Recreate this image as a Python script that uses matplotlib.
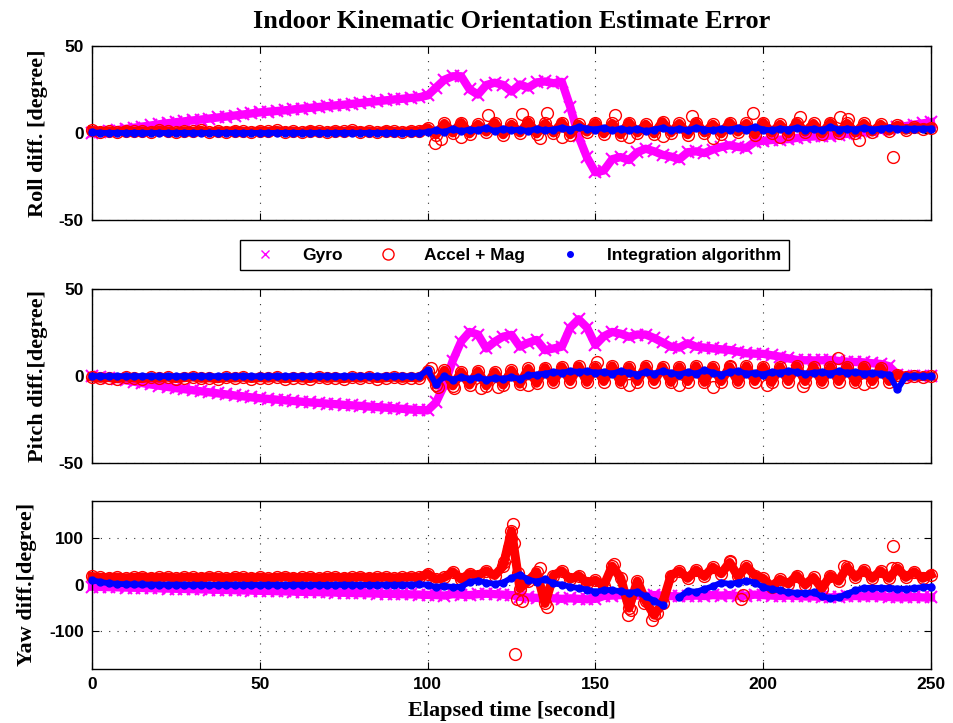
import numpy as np
import matplotlib
matplotlib.use("Agg")
import matplotlib.pyplot as plt
from matplotlib.lines import Line2D

plt.rcParams["axes.unicode_minus"] = False

# ---------------- data ----------------
t = np.arange(0, 250.01, 2.5)  # elapsed time [s]

roll_gyro = [
    0.0, 0.5, 1.1, 1.7, 2.4, 3.0, 3.7, 4.3, 5.0, 5.6,
    6.2, 6.7, 7.2, 7.7, 8.3, 8.9, 9.4, 10.0, 10.6, 11.2,
    11.8, 12.2, 12.6, 13.0, 13.5, 14.0, 14.4, 14.9, 15.4, 15.8,
    16.2, 16.7, 17.2, 17.7, 18.2, 18.7, 19.2, 19.6, 20.1, 20.5,
    21.5, 26.0, 30.5, 32.5, 32.5, 25.0, 22.0, 27.5, 28.8, 27.5,
    23.7, 27.8, 26.0, 29.0, 29.5, 28.5, 29.3, 15.0, -2.0, -14.0,
    -22.5, -21.5, -15.0, -13.8, -15.5, -11.0, -9.0, -10.5, -12.5, -13.5,
    -15.0, -11.0, -10.5, -11.5, -9.5, -8.0, -7.0, -8.0, -8.5, -5.0,
    -4.5, -4.0, -3.8, -3.5, -2.8, -2.2, -2.0, -1.8, -1.5, -1.0,
    -0.5, 0.0, 0.5, 1.2, 1.8, 2.5, 3.2, 4.0, 4.8, 5.5,
    6.2]
roll_accel = [
    1.5, 0.8, 1.2, 0.6, 1.4, 0.9, 1.1, 0.7, 1.5, 1.0,
    0.7, 1.3, 0.9, 1.5, 0.6, 1.2, 0.8, 1.4, 1.0, 0.7,
    1.3, 0.9, 1.5, 0.8, 1.1, 0.6, 1.4, 1.0, 0.7, 1.3,
    0.9, 1.5, 0.8, 1.2, 0.6, 1.4, 1.0, 0.7, 1.3, 1.1,
    3.0, -1.0, 5.5, 0.0, 6.0, -0.5, 5.0, 0.5, 6.0, -1.0,
    5.0, 0.0, 6.5, -0.5, 5.5, 0.0, 6.0, -1.0, 5.0, 0.5,
    6.0, -0.5, 5.5, -1.0, 6.0, 0.0, 5.0, -0.5, 6.5, 0.0,
    5.5, -1.0, 6.0, 0.0, 5.0, -0.5, 6.0, 0.5, 5.5, -1.0,
    6.0, 0.0, 5.0, -0.5, 6.0, 0.5, 5.5, -0.5, 6.0, 0.0,
    5.5, 0.0, 5.5, 0.5, 5.0, 1.0, 4.5, 1.5, 3.5, 2.5,
    3.0]
roll_accel_out_t = [102.2, 104.0, 110.0, 118.1, 128.0, 133.5, 135.5, 140.0, 155.8, 160.0,
                    170.0, 178.7, 185.1, 197.1, 205.0, 211.0, 222.9, 225.4, 228.4, 238.8]
roll_accel_out_v = [-5.5, -3.5, -2.5, 10.3, 10.9, -3.0, 11.7, -2.5, 10.3, -2.5,
                    -2.0, 9.7, -3.0, 11.6, -2.5, 9.0, 9.0, 8.0, -4.0, -13.9]
roll_integ = [
    0.3, 0.1, 0.0, 0.1, 0.0, 0.1, 0.0, 0.0, 0.1, 0.0,
    0.0, 0.1, 0.0, 0.0, 0.1, 0.0, 0.1, 0.0, 0.0, 0.1,
    0.0, 0.0, 0.1, 0.0, 0.1, 0.0, 0.0, 0.1, 0.0, 0.0,
    0.1, 0.0, 0.0, 0.1, 0.0, 0.0, 0.1, 0.0, 0.0, 0.1,
    0.5, 1.5, 0.5, 2.5, 1.0, 2.0, 1.5, 3.0, 1.0, 2.5,
    1.5, 2.0, 1.0, 2.5, 1.5, 2.0, 3.0, 2.0, 3.5, 2.5,
    2.0, 3.0, 1.5, 2.5, 1.5, 2.5, 1.0, 2.0, 3.0, 1.5,
    2.5, 1.5, 3.0, 2.0, 1.5, 2.5, 2.0, 3.0, 2.0, 3.5,
    2.0, 1.5, 2.5, 2.0, 3.0, 2.0, 2.5, 1.5, 3.5, 2.0,
    2.5, 2.0, 3.0, 2.0, 2.5, 3.0, 2.5, 2.5, 2.5, 2.5,
    2.5]

pitch_gyro = [
    0.0, -0.3, -0.8, -1.5, -2.3, -3.1, -3.9, -4.7, -5.4, -6.1,
    -6.8, -7.4, -8.0, -8.6, -9.2, -9.8, -10.4, -11.0, -11.5, -12.1,
    -12.6, -13.0, -13.4, -13.8, -14.2, -14.6, -15.0, -15.3, -15.7, -16.0,
    -16.4, -16.7, -17.0, -17.4, -17.7, -18.0, -18.4, -18.7, -19.1, -19.4,
    -19.6, -15.0, -5.0, 9.0, 20.0, 25.5, 24.0, 16.0, 19.9, 22.8,
    23.8, 17.0, 19.3, 20.9, 15.0, 16.0, 17.0, 28.0, 32.8, 28.0,
    18.0, 23.0, 25.5, 24.5, 22.7, 24.0, 24.0, 22.0, 19.5, 17.0,
    16.5, 19.0, 17.0, 16.5, 16.0, 15.5, 15.1, 14.2, 13.2, 13.0,
    12.9, 12.1, 11.3, 10.3, 9.4, 9.2, 9.1, 9.2, 9.4, 8.8,
    8.4, 8.2, 8.0, 7.5, 7.1, 5.8, 1.0, 0.0, 0.0, 0.0,
    0.0]
pitch_accel = [
    -0.5, -1.2, -0.7, -1.4, -0.4, -1.0, -1.3, -0.6, -1.1, -0.5,
    -1.3, -0.8, -0.4, -1.2, -0.9, -1.4, -0.6, -1.0, -0.5, -1.3,
    -0.8, -1.1, -0.4, -1.4, -0.7, -1.0, -1.3, -0.5, -1.2, -0.8,
    -1.4, -0.6, -1.1, -0.4, -1.3, -0.9, -0.5, -1.2, -0.7, -1.0,
    3.0, -5.0, 3.5, -5.5, 2.5, -5.0, 3.0, -5.5, 2.5, -5.0,
    3.5, -4.5, 4.5, -4.0, 5.0, -3.5, 5.5, -3.0, 6.0, -3.5,
    5.5, -3.0, 6.0, -3.5, 5.5, -3.0, 6.0, -3.0, 5.5, -3.5,
    5.5, -3.0, 6.0, -3.5, 5.5, -3.0, 5.5, -3.5, 6.0, -3.0,
    5.5, -3.5, 5.5, -3.0, 6.0, -3.0, 5.5, -3.5, 5.5, -3.0,
    5.5, -3.5, 5.5, -3.0, 5.0, -3.0, 1.0, -0.3, 0.2, -0.2,
    0.0]
pitch_accel_out_t = [101.0, 103.0, 108.0, 116.0, 121.0, 130.0, 150.4, 160.0, 175.0,
                     185.0, 190.0, 201.0, 212.0, 222.4, 230.0]
pitch_accel_out_v = [5.0, -6.0, -6.5, -7.0, -6.0, -5.0, 8.4, -5.0, -5.0,
                     -6.0, 6.0, -5.0, -5.5, 10.3, -4.5]
pitch_integ = [
    0.1, 0.0, 0.0, 0.1, 0.0, 0.0, 0.1, 0.0, 0.0, 0.1,
    0.0, 0.0, 0.1, 0.0, 0.0, 0.1, 0.0, 0.0, 0.1, 0.0,
    0.0, 0.1, 0.0, 0.0, 0.1, 0.0, 0.0, 0.1, 0.0, 0.0,
    0.1, 0.0, 0.0, 0.1, 0.0, 0.0, 0.1, 0.0, 0.0, 0.1,
    3.5, -4.5, 0.0, -2.0, -0.5, -1.5, -0.5, -2.0, -1.0, -1.5,
    -0.5, -1.5, 0.5, 1.0, 1.5, 2.5, 2.0, 3.0, 2.5, 3.0,
    2.0, 2.5, 1.5, 3.0, 2.0, 1.0, 2.5, 1.5, 3.0, 2.0,
    1.0, 2.5, 1.5, 3.5, 2.0, 1.0, 2.5, 3.0, 1.5, 2.0,
    1.0, 2.5, 2.0, 3.0, 2.5, 1.5, 2.0, 2.5, 1.5, 3.0,
    2.0, 2.5, 1.5, 2.0, 1.5, 1.0, -7.5, 0.0, 0.0, 0.0,
    0.0]

yaw_gyro = [
    -4.0, -4.4, -4.9, -5.3, -5.8, -6.2, -6.6, -7.1, -7.5, -8.0,
    -8.4, -8.8, -9.3, -9.7, -10.1, -10.6, -11.0, -11.4, -11.9, -12.3,
    -12.7, -13.1, -13.6, -14.0, -14.4, -14.9, -15.3, -15.7, -16.2, -16.6,
    -17.0, -17.5, -17.9, -18.3, -18.8, -19.2, -19.6, -20.1, -20.5, -20.9,
    -21.5, -22.0, -23.0, -20.0, -21.0, -22.0, -20.0, -19.0, -20.0, -21.0,
    -22.0, -26.0, -27.0, -28.0, -27.0, -29.0, -30.0, -29.0, -30.0, -31.0,
    -30.0, -24.0, -23.0, -22.0, -24.0, -23.0, -24.0, -22.0, -23.0, -24.0,
    -25.0, -24.0, -23.0, -24.0, -22.0, -23.0, -22.0, -24.0, -23.0, -21.0,
    -22.0, -23.0, -24.0, -23.0, -24.0, -25.0, -25.0, -26.0, -27.0, -26.0,
    -25.0, -24.0, -25.0, -24.0, -25.0, -26.0, -27.0, -27.0, -26.0, -27.0,
    -27.0]
yaw_accel = [
    18.0, 16.0, 15.5, 16.5, 15.0, 16.0, 17.0, 15.5, 16.0, 16.5,
    15.0, 16.5, 16.0, 15.5, 17.0, 16.0, 15.0, 16.5, 16.0, 15.5,
    16.5, 15.0, 16.0, 17.0, 15.5, 16.0, 16.5, 15.0, 16.0, 16.5,
    15.5, 16.0, 17.0, 15.5, 16.0, 16.5, 15.0, 16.0, 17.0, 16.0,
    24.0, 12.0, 16.0, 28.0, 12.0, 24.0, 20.0, 30.0, 20.0, 40.0,
    116.0, -8.0, 8.0, 28.0, -40.0, 20.0, 30.0, 12.0, 20.0, 4.0,
    10.0, -2.0, 40.0, 15.0, -50.0, 8.0, -35.0, -65.0, -40.0, 20.0,
    30.0, 14.0, 32.0, 18.0, 38.0, 24.0, 48.0, 18.0, 40.0, 20.0,
    14.0, -4.0, 12.0, 2.0, 20.0, 0.0, 16.0, -8.0, 20.0, 8.0,
    38.0, 16.0, 32.0, 14.0, 30.0, 14.0, 36.0, 16.0, 28.0, 14.0,
    22.0]
yaw_accel_out_t = [122.7, 123.8, 124.3, 124.8, 125.3, 125.8, 126.0, 126.5, 127.0, 128.0,
                   133.4, 135.5, 155.5, 159.8, 160.5, 164.5, 166.8, 168.5, 190.0, 193.5,
                   194.0, 224.0, 238.5, 238.6]
yaw_accel_out_v = [50.0, 60.0, 80.0, 100.0, 130.0, 90.0, -148.0, -30.0, 25.0, -35.0,
                   37.0, -48.0, 45.0, -65.0, -55.0, -40.0, -76.0, -60.0, 52.0, -30.0,
                   -22.0, 40.0, 37.0, 84.0]
yaw_integ = [
    10.0, 6.0, 3.5, 2.0, 1.5, 1.0, 0.8, 0.5, 0.5, 0.3,
    0.3, 0.2, 0.0, 0.2, 0.0, -0.2, 0.0, 0.2, 0.0, -0.2,
    0.0, 0.2, 0.0, -0.2, 0.0, 0.2, 0.0, 0.0, -0.2, 0.0,
    0.2, 0.0, 0.0, -0.2, 0.0, 0.2, 0.0, 0.3, 0.5, 0.8,
    0.6, -5.0, -2.0, -5.0, -4.0, 6.0, 9.0, 5.0, 2.0, 5.0,
    15.0, 22.0, 11.0, 7.0, 12.0, 3.0, 0.5, -4.0, -7.0, -10.0,
    -15.0, -11.0, -11.0, -14.0, -17.0, -15.0, -25.0, -34.0, -44.0, np.nan,
    -27.0, -13.0, -15.0, -9.0, -3.0, 5.0, 2.0, 5.0, 9.0, 5.0,
    -5.0, -9.0, -12.0, -16.0, -17.0, -18.0, -16.0, -25.0, -28.0, -27.0,
    -19.0, -12.0, -6.5, -6.5, -6.5, -7.0, -8.0, -8.7, -7.0, -5.0,
    -4.0]

x_ticks = [0, 50, 100, 150, 200, 250]
legend_labels = ["Gyro", "Accel + Mag", "Integration algorithm"]

# ---------------- styling ----------------
MAG, RED, BLUE = "#ff00ff", "#ff0000", "#0000ff"
SERIF = "Liberation Serif"
SANS = "Liberation Sans"

fig = plt.figure(figsize=(9.54, 7.23), dpi=100)
W, H = 954.0, 723.0
L, R = 92.0, 931.0


def make_ax(top, bottom):
    return fig.add_axes([L / W, 1 - bottom / H, (R - L) / W, (bottom - top) / H])


ax1 = make_ax(45.7, 220.3)
ax2 = make_ax(289.3, 463.3)
ax3 = make_ax(501.0, 668.7)


def draw(ax, gyro, accel, out_t, out_v, integ):
    ax.plot(t, gyro, color=MAG, lw=6.0, zorder=2, clip_on=False)
    ax.plot(t, gyro, ls="none", marker="x", ms=8, mew=1.5, color=MAG, zorder=2, clip_on=False)
    ax.plot(t, accel, color=RED, lw=6.5, zorder=3, clip_on=False)
    ax.plot(t, accel, ls="none", marker="o", ms=8.5, mfc="none", mec=RED, mew=1.0, zorder=3, clip_on=False)
    ax.plot(out_t, out_v, ls="none", marker="o", ms=8.5, mfc="none", mec=RED, mew=1.0, zorder=3, clip_on=False)
    ax.plot(t, integ, color=BLUE, lw=4.2, zorder=4, clip_on=False)
    ax.plot(t, integ, ls="none", marker=".", ms=10, color=BLUE, zorder=4, clip_on=False)


draw(ax1, roll_gyro, roll_accel, roll_accel_out_t, roll_accel_out_v, roll_integ)
draw(ax2, pitch_gyro, pitch_accel, pitch_accel_out_t, pitch_accel_out_v, pitch_integ)
draw(ax3, yaw_gyro, yaw_accel, yaw_accel_out_t, yaw_accel_out_v, yaw_integ)

for ax in (ax1, ax2, ax3):
    ax.set_xlim(0, 250)
    ax.set_xticks(x_ticks)
    ax.set_axisbelow(True)
    ax.grid(True, color="#333333", ls=(0, (1, 6.5)), lw=0.8)
    ax.tick_params(direction="in", top=True, right=True, length=5, width=0.8,
                   labelsize=12.5, pad=6)
    for s in ax.spines.values():
        s.set_linewidth(1.0)
    for lab in ax.get_xticklabels() + ax.get_yticklabels():
        lab.set_fontfamily(SANS)
        lab.set_fontweight("bold")

ax1.set_ylim(-50, 50)
ax1.set_yticks([-50, 0, 50])
ax2.set_ylim(-50, 50)
ax2.set_yticks([-50, 0, 50])
ax3.set_ylim(-180, 180)
ax3.set_yticks([-100, 0, 100])
ax1.tick_params(labelbottom=False)
ax2.tick_params(labelbottom=False)

lab_kw = dict(fontfamily=SERIF, fontweight="bold", fontsize=16)
ax1.set_ylabel("Roll diff. [degree]", **lab_kw)
ax2.set_ylabel("Pitch diff.[degree]", **lab_kw)
ax3.set_ylabel("Yaw diff.[degree]", **lab_kw)
ax1.yaxis.set_label_coords(-0.052, 0.5)
ax2.yaxis.set_label_coords(-0.052, 0.5)
ax3.yaxis.set_label_coords(-0.066, 0.5)
ax3.set_xlabel("Elapsed time [second]", **lab_kw)
ax3.xaxis.set_label_coords(0.5, -0.19)

fig.text(511.5 / W, 1 - 22 / H, "Indoor Kinematic Orientation Estimate Error",
         ha="center", va="center", fontfamily=SERIF, fontweight="bold", fontsize=19)

handles = [
    Line2D([], [], ls="none", marker="x", ms=6, mew=1.0, color=MAG),
    Line2D([], [], ls="none", marker="o", ms=8, mfc="none", mec=RED, mew=1.0),
    Line2D([], [], ls="none", marker=".", ms=8, color=BLUE),
]
leg = fig.legend(handles, legend_labels, loc="center",
                 bbox_to_anchor=(514.5 / W, 1 - 255 / H), ncol=3,
                 frameon=True, fancybox=False, shadow=False,
                 prop=dict(family=SANS, weight="bold", size=12.5),
                 handlelength=2.0, handletextpad=1.1, columnspacing=1.6,
                 borderpad=0.45, borderaxespad=0.0)
leg.get_frame().set_edgecolor("k")
leg.get_frame().set_linewidth(1.0)
leg.get_frame().set_alpha(1.0)

fig.savefig("out.png", dpi=100)
